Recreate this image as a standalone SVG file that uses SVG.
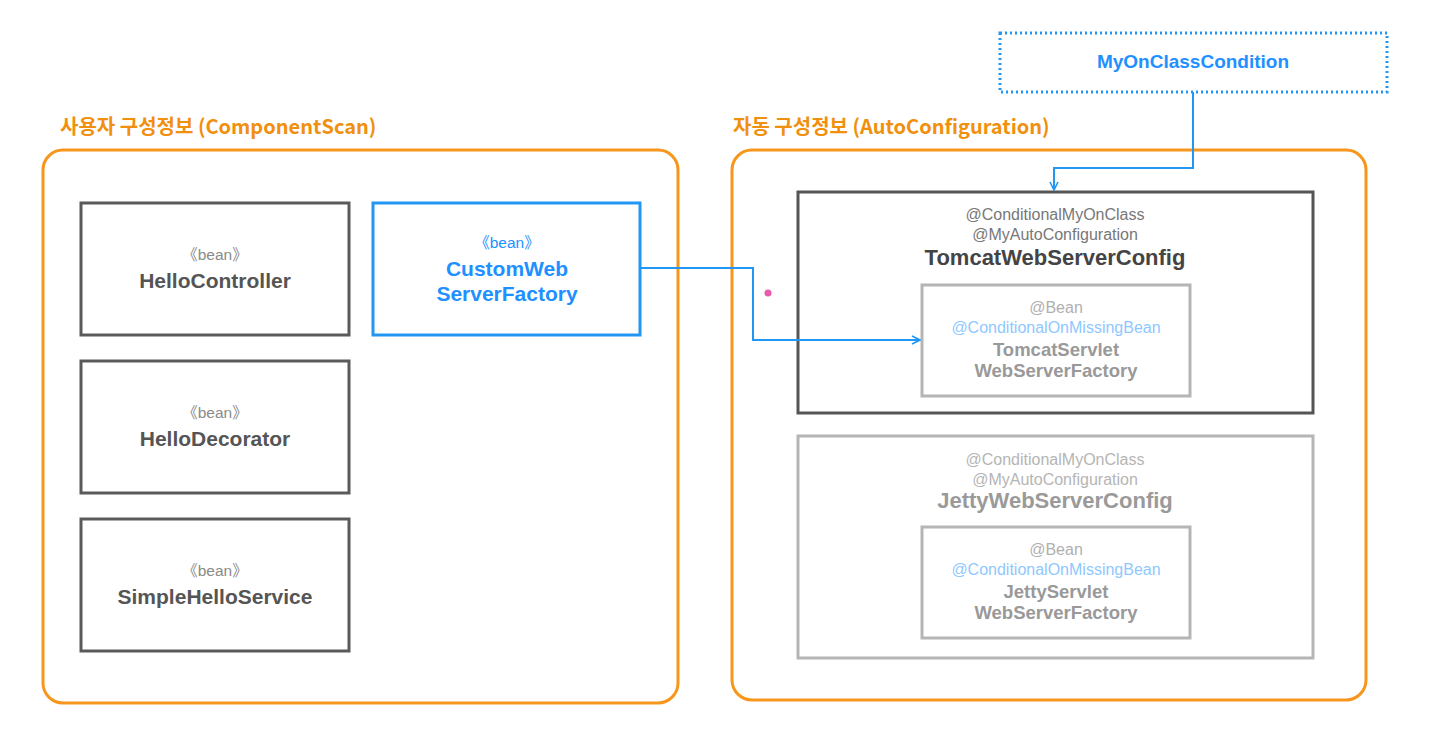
<svg xmlns="http://www.w3.org/2000/svg" width="1430" height="747" viewBox="0 0 1430 747">
<defs>
<style>
text{font-family:"Liberation Sans","Noto Sans CJK KR",sans-serif;text-anchor:middle}
.title{font-family:"Noto Sans CJK KR","Noto Sans",sans-serif;fill:#F0900E;font-size:20px;font-weight:700;text-anchor:start}
.cont{fill:none;stroke:#F7961C;stroke-width:3}
.bean{fill:#fff;stroke:#5a5a5a;stroke-width:3}
.st{fill:#8a8a8a;font-size:15.5px}
.nm{fill:#555;font-size:21px;font-weight:700}
.blue{fill:#1E90FF}
.gray{fill:#fff;stroke:#b5b5b5;stroke-width:3}
.ann{font-size:16px}
.big{font-size:22px;font-weight:700}
.inm{fill:#999;font-size:18.5px;font-weight:700}
.conn{fill:none;stroke:#2196F3;stroke-width:2}
</style>
<marker id="arr" viewBox="0 0 10 10" refX="9" refY="5" markerWidth="10" markerHeight="10" orient="auto" markerUnits="userSpaceOnUse">
<path d="M1,1 L9,5 L1,9" fill="none" stroke="#2196F3" stroke-width="1.6"/>
</marker>
</defs>
<rect width="1430" height="747" fill="#fff"/>

<g id="user-config">
<text class="title" x="60" y="134">사용자 구성정보 (ComponentScan)</text>
<rect class="cont" x="43" y="150" width="635" height="553" rx="20"/>
</g>

<g id="auto-config">
<text class="title" x="733" y="134">자동 구성정보 (AutoConfiguration)</text>
<rect class="cont" x="732" y="150" width="634" height="550" rx="20"/>
</g>

<g id="HelloController">
<rect class="bean" x="81" y="203" width="268" height="132"/>
<text class="st" x="215" y="260">《bean》</text>
<text class="nm" x="215" y="288">HelloController</text>
</g>
<g id="HelloDecorator">
<rect class="bean" x="81" y="361" width="268" height="132"/>
<text class="st" x="215" y="418">《bean》</text>
<text class="nm" x="215" y="446">HelloDecorator</text>
</g>
<g id="SimpleHelloService">
<rect class="bean" x="81" y="519" width="268" height="132"/>
<text class="st" x="215" y="576">《bean》</text>
<text class="nm" x="215" y="604">SimpleHelloService</text>
</g>
<g id="CustomWebServerFactory">
<rect x="373" y="203" width="267" height="132" fill="#fff" stroke="#2196F3" stroke-width="3"/>
<text class="st blue" x="507" y="248">《bean》</text>
<text class="nm blue" x="507" y="276">CustomWeb</text>
<text class="nm blue" x="507" y="301">ServerFactory</text>
</g>

<g id="MyOnClassCondition">
<rect x="1000" y="33" width="387" height="59" fill="#fff" stroke="#2196F3" stroke-width="3" stroke-dasharray="2 3"/>
<text class="blue" x="1193" y="68" font-size="19" font-weight="700">MyOnClassCondition</text>
</g>

<g id="TomcatWebServerConfig">
<rect x="798" y="192" width="515" height="221" fill="#fff" stroke="#555" stroke-width="3"/>
<text class="ann" x="1055" y="220" fill="#777">@ConditionalMyOnClass</text>
<text class="ann" x="1055" y="240" fill="#777">@MyAutoConfiguration</text>
<text class="big" x="1055" y="265" fill="#444">TomcatWebServerConfig</text>
</g>
<g id="TomcatServletWebServerFactory">
<rect class="gray" x="922" y="285" width="268" height="111"/>
<text class="ann" x="1056" y="313" fill="#b0b0b0">@Bean</text>
<text class="ann" x="1056" y="333" fill="#8EC8FF">@ConditionalOnMissingBean</text>
<text class="inm" x="1056" y="356">TomcatServlet</text>
<text class="inm" x="1056" y="377">WebServerFactory</text>
</g>

<g id="JettyWebServerConfig">
<rect class="gray" x="798" y="436" width="515" height="222"/>
<text class="ann" x="1055" y="465" fill="#b5b5b5">@ConditionalMyOnClass</text>
<text class="ann" x="1055" y="485" fill="#b5b5b5">@MyAutoConfiguration</text>
<text class="big" x="1055" y="508" fill="#9a9a9a">JettyWebServerConfig</text>
</g>
<g id="JettyServletWebServerFactory">
<rect class="gray" x="922" y="527" width="268" height="111"/>
<text class="ann" x="1056" y="555" fill="#b0b0b0">@Bean</text>
<text class="ann" x="1056" y="575" fill="#8EC8FF">@ConditionalOnMissingBean</text>
<text class="inm" x="1056" y="598">JettyServlet</text>
<text class="inm" x="1056" y="619">WebServerFactory</text>
</g>

<g id="connectors">
<path class="conn" d="M1193,92 V168 H1054 V190" marker-end="url(#arr)"/>
<path class="conn" d="M640,268 H753 V340 H920" marker-end="url(#arr)"/>
<circle cx="768" cy="293" r="3.5" fill="#E85BA8"/>
</g>
</svg>
